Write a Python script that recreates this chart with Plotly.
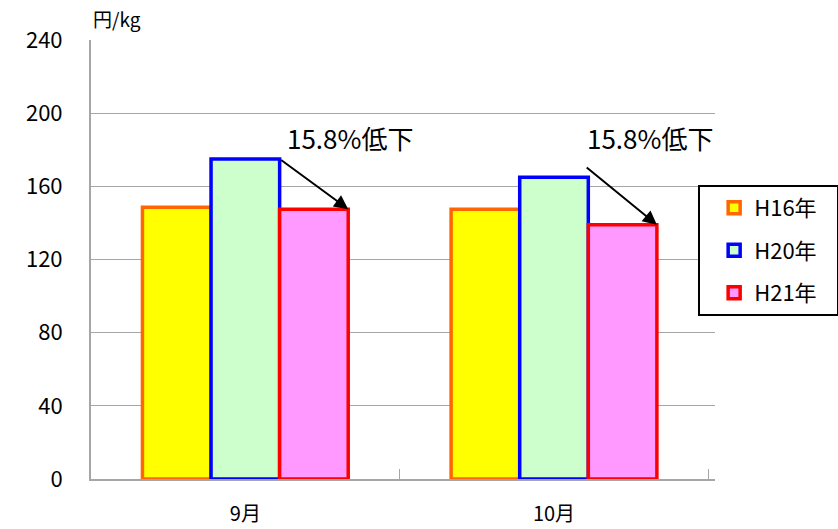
import plotly.graph_objects as go

# Monthly unit price (yen/kg) by fiscal year
months = ["9月", "10月"]
series_names = ["H16年", "H20年", "H21年"]
h16 = [148.5, 147.5]
h20 = [175.0, 165.0]
h21 = [147.5, 139.0]
drop_labels = ["15.8%低下", "15.8%低下"]
y_ticks = [0, 40, 80, 120, 160, 200, 240]

fills = ["#FFFF00", "#CCFFCC", "#FF99FF"]
borders = ["#FF6600", "#0000FF", "#FF0000"]

JP = "Noto Sans CJK JP"
PAD = "\u00a0" * 3  # widens the legend box toward the right edge

fig = go.Figure()
for name, vals, fc, lc in zip(series_names, [h16, h20, h21], fills, borders):
    fig.add_trace(go.Bar(
        x=months, y=vals, name=name + PAD, legendgroup=name,
        marker=dict(color=fc, line=dict(color=lc, width=3.5)),
    ))

# Arrows from the H20 bar to the H21 bar, with the drop label
for i, (a, b, lab) in enumerate(zip(h20, h21, drop_labels)):
    tail_dy = 0 if i == 0 else 6
    fig.add_annotation(
        x=i + 1 / 3, y=b, ax=i + 1 / 9 - (0.01 if i else 0), ay=a + tail_dy,
        xref="x", yref="y", axref="x", ayref="y",
        showarrow=True, arrowhead=2, arrowsize=1.4, arrowwidth=2,
        arrowcolor="black", text="",
    )
    fig.add_annotation(
        x=i + (0.338 if i == 0 else 0.311), y=186.5, xref="x", yref="y",
        text=lab, showarrow=False, font=dict(family=JP, size=26, color="black"),
    )

fig.add_annotation(
    x=0, y=1, xref="paper", yref="paper", xanchor="left", yanchor="bottom",
    yshift=6, text="円/kg", showarrow=False,
    font=dict(family=JP, size=19, color="black"),
)

fig.update_layout(
    width=838, height=529,
    margin=dict(l=91, r=123, t=40, b=50, autoexpand=False),
    paper_bgcolor="white", plot_bgcolor="white",
    barmode="group", bargap=1 / 3, bargroupgap=0,
    font=dict(family=JP, color="black"),
    legend=dict(
        x=0.973, y=0.67, xanchor="left", yanchor="top",
        bordercolor="black", borderwidth=2, bgcolor="white",
        font=dict(family=JP, size=22, color="black"),
        traceorder="grouped", tracegroupgap=11, indentation=14,
    ),
    showlegend=True,
)

fig.update_yaxes(
    range=[0, 240], tickvals=y_ticks, showgrid=True, gridcolor="#A6A6A6", gridwidth=1,
    showline=True, linecolor="#A6A6A6", linewidth=2,
    ticks="inside", ticklen=8, tickcolor="#A6A6A6",
    tickfont=dict(family=JP, size=22, color="black"), ticklabelstandoff=22,
    zeroline=False,
)
fig.update_xaxes(
    type="category", showline=True, linecolor="#A6A6A6", linewidth=2,
    ticks="inside", tickson="boundaries", ticklen=10, tickcolor="#A6A6A6",
    tickfont=dict(family=JP, size=20, color="black"), ticklabelstandoff=16,
    showgrid=False,
)

fig.write_html("out.html")
